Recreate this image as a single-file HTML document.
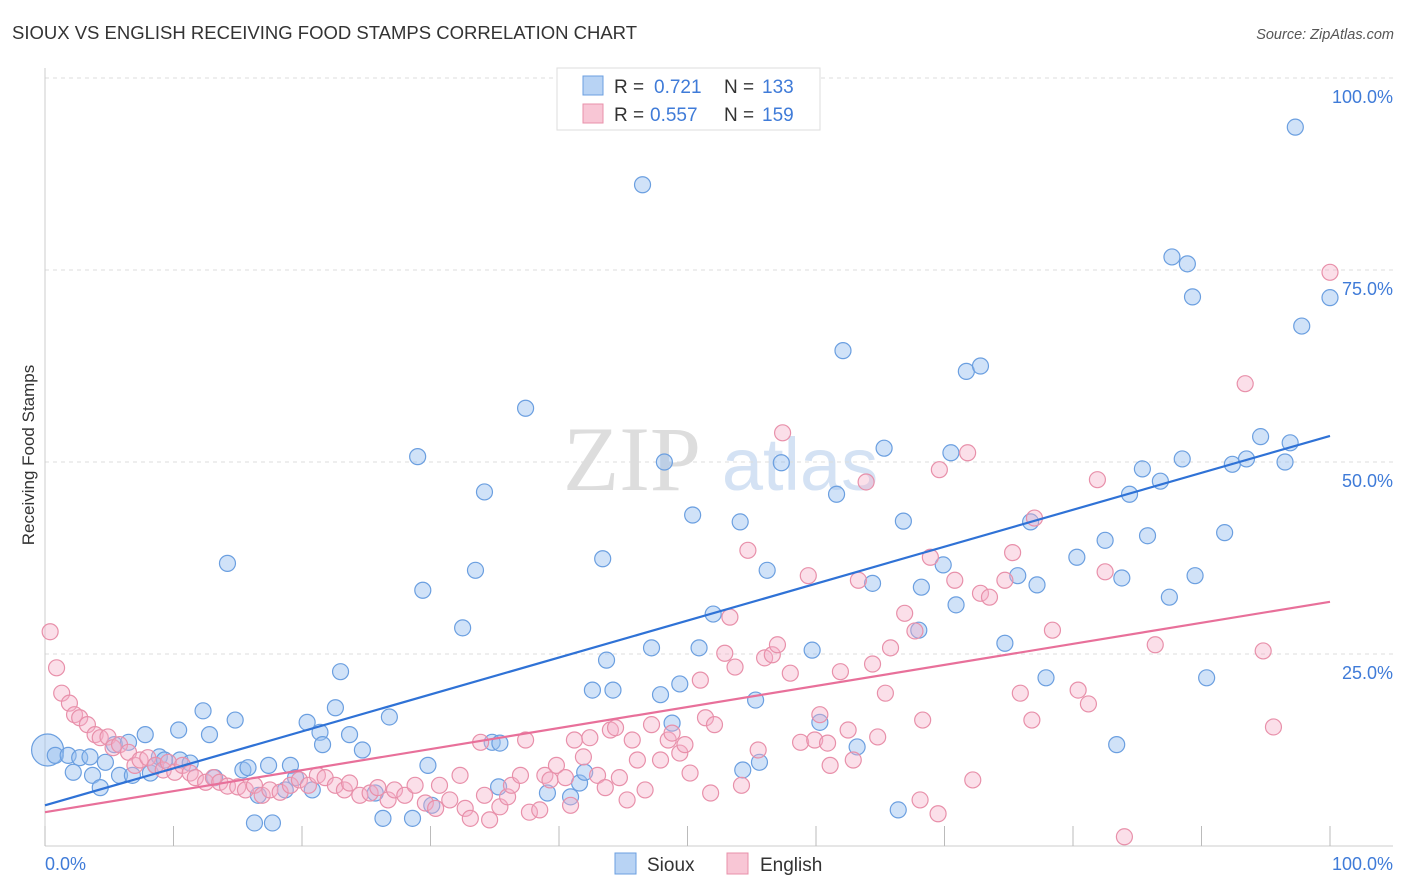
<!DOCTYPE html>
<html><head><meta charset="utf-8"><style>
body{margin:0;background:#fff;font-family:"Liberation Sans",sans-serif;}
svg{display:block}
</style></head><body>
<svg id="chart" width="1406" height="892" viewBox="0 0 1406 892" xmlns="http://www.w3.org/2000/svg">
<text x="12" y="39" font-size="18.5" fill="#333" font-family="Liberation Sans, sans-serif">SIOUX VS ENGLISH RECEIVING FOOD STAMPS CORRELATION CHART</text>
<text x="1394" y="39" font-size="14.5" fill="#555" font-style="italic" text-anchor="end" font-family="Liberation Sans, sans-serif">Source: ZipAtlas.com</text>
<g>
<text x="632" y="490" font-size="92" fill="#ddd" font-family="Liberation Serif, serif" text-anchor="middle">ZIP</text>
<text x="800" y="490" font-size="74" fill="#d4e2f4" font-family="Liberation Sans, sans-serif" text-anchor="middle">atlas</text>
</g>
<g id="grid"></g>
<g id="axes"></g>
<g id="pts-blue"></g>
<g id="pts-pink"></g>
<g id="lines"></g>
<text transform="translate(34,455) rotate(-90)" font-size="17" fill="#333" text-anchor="middle" font-family="Liberation Sans, sans-serif">Receiving Food Stamps</text>
<g>
<rect x="557" y="68" width="263" height="62" fill="#fff" stroke="#ddd"/>
<rect x="583" y="76" width="20" height="19" fill="#b8d3f4" stroke="#6b9fe0"/>
<rect x="583" y="104" width="20" height="19" fill="#f8c6d5" stroke="#e890aa"/>
<text x="614" y="93" font-size="19" fill="#333">R = </text><text x="654" y="93" font-size="19" fill="#3f7bd8">0.721</text>
<text x="724" y="93" font-size="19" fill="#333">N = </text><text x="762" y="93" font-size="19" fill="#3f7bd8">133</text>
<text x="614" y="121" font-size="19" fill="#333">R = </text><text x="650" y="121" font-size="19" fill="#3f7bd8">0.557</text>
<text x="724" y="121" font-size="19" fill="#333">N = </text><text x="762" y="121" font-size="19" fill="#3f7bd8">159</text>
</g>
<g>
<rect x="615" y="853" width="21" height="21" fill="#b8d3f4" stroke="#6b9fe0"/>
<text x="647" y="871" font-size="19" fill="#333">Sioux</text>
<rect x="727" y="853" width="21" height="21" fill="#f8c6d5" stroke="#e890aa"/>
<text x="760" y="871" font-size="19" fill="#333">English</text>
</g>
</svg>
<script>
const yTicks=[100,75,50,25];
const yTickLabels=["100.0%","75.0%","50.0%","25.0%"];
const xTicks=[0,10,20,30,40,50,60,70,80,90,100];
const xEndLabels=["0.0%","100.0%"];
const siouxX=[0.2,0.8,1.8,2.7,2.2,3.5,3.7,4.3,4.7,5.4,5.8,6.5,6.8,7.8,8.2,8.6,8.9,9.3,10.4,10.5,11.3,12.3,12.8,13.2,14.2,14.8,15.4,15.8,16.3,16.6,17.4,17.7,18.7,19.1,19.5,20.4,20.8,21.4,21.6,22.6,23.0,23.7,24.7,25.7,26.3,26.8,29.0,29.4,29.8,30.1,32.5,33.5,34.2,34.8,35.4,35.3,37.4,39.1,40.9,41.6,42.0,42.6,43.4,43.7,44.2,46.5,47.2,47.9,48.2,48.8,49.4,50.4,50.9,52.0,54.1,54.3,55.3,55.6,56.2,57.3,59.7,60.3,61.6,62.1,63.2,64.4,65.3,66.4,66.8,68.0,68.2,69.9,70.5,70.9,71.7,72.8,74.7,75.7,76.7,77.2,77.9,80.3,82.5,83.4,83.8,84.4,85.4,85.8,86.8,87.5,87.7,88.5,88.9,89.3,89.5,90.4,91.8,92.4,93.5,94.6,96.5,96.9,97.3,97.8,100,28.6];
const siouxY=[12.5,11.8,11.8,11.5,9.6,11.6,9.2,7.6,10.9,13.2,9.2,13.5,9.2,14.5,9.5,10.5,11.6,11.2,15.1,11.2,10.8,17.6,14.5,8.9,36.8,16.4,9.9,10.2,3.0,6.6,10.5,3.0,7.3,10.5,8.9,16.1,7.3,14.8,13.2,18.0,22.7,14.5,12.5,6.9,3.6,16.8,50.7,33.3,10.5,5.3,28.4,35.9,46.1,13.5,13.4,7.7,57.0,6.9,6.4,8.2,9.6,20.3,37.4,24.2,20.3,86.1,25.8,19.7,50.0,16.0,21.1,43.1,25.8,30.2,42.2,9.9,19.0,10.9,35.9,49.9,25.5,16.1,45.8,64.5,12.9,34.2,51.8,4.7,42.3,28.1,33.7,36.6,51.2,31.4,61.8,62.5,26.4,35.2,42.2,34.0,21.9,37.6,39.8,13.2,34.9,45.8,49.1,40.4,47.5,32.4,76.7,50.4,75.8,71.5,35.2,21.9,40.8,49.7,50.4,53.3,50.0,52.5,93.6,67.7,71.4,3.6];
const englishX=[0.4,0.9,1.3,1.9,2.3,2.7,3.3,3.9,4.3,4.9,5.3,5.8,6.5,7.0,7.4,8.0,8.6,9.2,9.6,10.1,10.7,11.3,11.7,12.5,13.1,13.6,14.2,15.0,15.6,16.3,16.9,17.5,18.3,19.1,19.8,20.5,21.2,21.8,22.6,23.3,23.7,24.5,25.3,25.9,26.7,27.2,28.0,28.8,29.6,30.4,30.7,31.5,32.3,32.7,33.1,33.9,34.2,34.6,35.4,36.0,36.3,37.0,37.4,37.7,38.5,38.9,39.3,39.8,40.5,40.9,41.2,41.9,42.4,43.0,43.6,44.0,44.4,44.7,45.3,45.7,46.1,46.7,47.2,47.9,48.5,48.8,49.4,49.8,50.2,51.0,51.4,51.8,52.1,52.9,53.3,53.7,54.2,54.7,55.5,56.0,56.6,57.0,57.4,58.0,58.8,59.4,59.9,60.3,60.9,61.1,61.9,62.5,62.9,63.3,63.9,64.4,64.8,65.4,65.8,66.9,67.7,68.3,68.9,69.5,69.6,70.8,71.8,72.2,72.8,73.5,74.7,75.3,75.9,76.8,77.0,78.4,80.4,81.2,81.9,82.5,84.0,86.4,93.4,94.8,95.6,100,68.1];
const englishY=[27.9,23.2,19.9,18.6,17.1,16.7,15.8,14.5,14.1,14.2,12.8,13.2,12.2,10.5,11.2,11.5,10.5,9.9,10.9,9.6,10.5,9.5,8.9,8.3,8.9,8.3,7.8,7.7,7.3,7.9,6.6,7.3,7.0,7.9,8.6,7.9,9.2,8.9,7.9,7.3,8.2,6.6,6.9,7.6,6.0,7.3,6.6,7.9,5.6,4.9,7.9,6.0,9.2,4.9,3.6,13.5,6.6,3.4,5.1,6.4,7.9,9.2,13.8,4.4,4.7,9.2,8.6,10.5,8.9,5.3,13.8,11.6,14.1,9.2,7.6,15.1,15.4,8.9,6.0,13.8,11.2,7.3,15.8,11.2,13.8,14.7,12.1,13.2,9.5,21.6,16.7,6.9,15.8,25.1,29.8,23.3,7.9,38.5,12.5,24.5,24.9,26.2,53.8,22.5,13.5,35.2,13.8,17.1,13.4,10.5,22.7,15.1,11.2,34.6,47.4,23.7,14.2,19.9,25.8,30.3,28.0,16.4,37.6,4.2,49.0,34.6,51.2,8.6,32.9,32.4,34.6,38.2,19.9,16.4,42.7,28.1,20.3,18.5,47.7,35.7,1.2,26.2,60.2,25.4,15.5,74.7,6.0];
const siouxTrend=[5.3,53.4];
const englishTrend=[4.4,31.8];

const NS="http://www.w3.org/2000/svg";
const X0=45,X1=1330,Y0=846,Y100=78;
function sx(v){return X0+(X1-X0)*v/100;}
function sy(v){return Y0-(Y0-Y100)*v/100;}
function mk(tag,attrs,parent){const e=document.createElementNS(NS,tag);for(const k in attrs)e.setAttribute(k,attrs[k]);parent.appendChild(e);return e;}
const grid=document.getElementById('grid'),axes=document.getElementById('axes');
yTicks.forEach((t,i)=>{
  const l=mk('line',{x1:X0,x2:1393,y1:sy(t),y2:sy(t),stroke:'#ddd','stroke-dasharray':'4,4'},grid);
  
  
  const tx=mk('text',{x:1393,y:sy(t)+25,'font-size':18,fill:'#3f7bd8','text-anchor':'end','font-family':'Liberation Sans, sans-serif'},axes);
  tx.textContent=yTickLabels[i];
  
  
});
const va=mk('line',{x1:X0,x2:X0,y1:68,y2:Y0,stroke:'#ccc'},axes);


const ha=mk('line',{x1:X0,x2:1393,y1:Y0,y2:Y0,stroke:'#ccc'},axes);


xTicks.forEach(t=>{
  const l=mk('line',{x1:sx(t),x2:sx(t),y1:826,y2:846,stroke:'#bbb'},axes);
  
  
});
const xl0=mk('text',{x:X0,y:870,'font-size':18,fill:'#3f7bd8','font-family':'Liberation Sans, sans-serif'},axes);
xl0.textContent=xEndLabels[0];


const xl1=mk('text',{x:1393,y:870,'font-size':18,fill:'#3f7bd8','text-anchor':'end','font-family':'Liberation Sans, sans-serif'},axes);
xl1.textContent=xEndLabels[1];


const gb=document.getElementById('pts-blue'),gp=document.getElementById('pts-pink');
siouxX.forEach((x,i)=>{
  const c=mk('circle',{cx:sx(x),cy:sy(siouxY[i]),r:i===0?16:8,fill:'rgba(150,190,240,0.45)',stroke:'#6b9fe0','stroke-width':1.2},gb);
  
  
});
englishX.forEach((x,i)=>{
  const c=mk('circle',{cx:sx(x),cy:sy(englishY[i]),r:8,fill:'rgba(245,175,200,0.4)',stroke:'#e890aa','stroke-width':1.2},gp);
  
  
});
const lg=document.getElementById('lines');
const bl=mk('line',{x1:sx(0),y1:sy(siouxTrend[0]),x2:sx(100),y2:sy(siouxTrend[1]),stroke:'#2f72d6','stroke-width':2.2},lg);


const pl=mk('line',{x1:sx(0),y1:sy(englishTrend[0]),x2:sx(100),y2:sy(englishTrend[1]),stroke:'#e8709a','stroke-width':2.2},lg);


</script>
</body></html>
